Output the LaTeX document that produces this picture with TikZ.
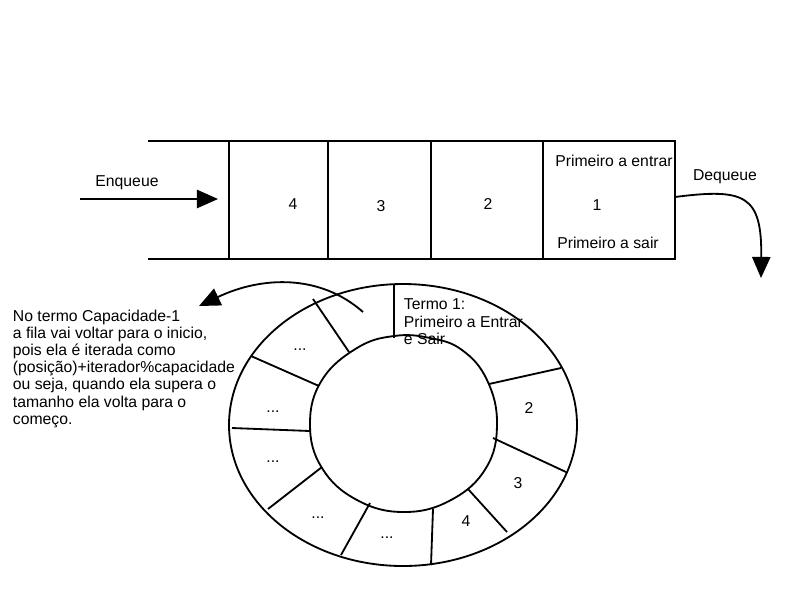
\documentclass[tikz,border=0pt]{standalone}
\usepackage{fontspec}
\setmainfont{Liberation Sans}
\usetikzlibrary{arrows.meta}

\begin{document}
\begin{tikzpicture}[x=0.025cm, y=-0.025cm, line width=1.3pt,
  tip/.style={-{Triangle[length=15pt,width=13pt]}},
  txt/.style={font=\fontsize{11.2}{12.2}\selectfont, inner sep=0pt}]
  \useasboundingbox (0,0) rectangle (800,600);
  % Fila (vetor)
  \draw (148,141) -- (675,141) -- (675,259) -- (148,259);
  \foreach \x in {229,328,431,543} \draw (\x,141) -- (\x,259);
  \node[txt] (c4) at (293,204) {4};
  \node[txt] (c3) at (381,206) {3};
  \node[txt] (c2) at (488,204) {2};
  \node[txt] (c1) at (597,205) {1};
  \node[txt] (entra) at (614,161) {Primeiro a entrar};
  \node[txt] (sai) at (608,243) {Primeiro a sair};
  % Enqueue / Dequeue
  \coordinate (ein) at (80,199);
  \coordinate (eout) at (218,199);
  \draw[tip] (ein) -- (eout);
  \node[txt] (enq) at (127,183) {Enqueue};
  \coordinate (din) at (675,197);
  \coordinate (dout) at (761,278);
  \draw[tip] (din) .. controls (745,188) and (762,195) .. (dout);
  \node[txt] (deq) at (725,177) {Dequeue};
  % Fila circular
  \draw (403,425) ellipse [x radius=174, y radius=141];
  \draw plot[smooth cycle, tension=0.7] coordinates {
    (394,336) (430,338) (462,350) (487,380) (497,424) (486,468) (451,500)
    (404,512) (357,500) (322,468) (310,424) (322,380) (357,348)
  };
  \foreach \xa/\ya/\xb/\yb in {394/285/394/338, 313/299/349/352, 251/356/319/386,
    232/428/310/431, 268/509/322/467, 341/555/370/503, 431/565/433/509,
    468/489/507/532, 493/438/566/472, 489/384/561/368}
    \draw (\xa,\ya) -- (\xb,\yb);
  \node[txt] (r1) at (300,350) {...};
  \node[txt] (r2) at (273,412) {...};
  \node[txt] (r3) at (273,462) {...};
  \node[txt] (r4) at (318,518) {...};
  \node[txt] (r5) at (387,538) {...};
  \node[txt] (q4) at (466,521) {4};
  \node[txt] (q3) at (518,483) {3};
  \node[txt] (q2) at (529,408) {2};
  \node[txt, anchor=north west, align=left, font=\fontsize{11.2}{12.4}\selectfont]
    (termo) at (403,298) {Termo 1:\\Primeiro a Entrar\\e Sair};
  % Volta ao inicio
  \coordinate (vin) at (363,312);
  \coordinate (vout) at (199,306);
  \draw[tip] (vin) .. controls (320,274) and (262,276) .. (vout);
  \node[txt, anchor=north west, align=left] (nota) at (12,309)
    {No termo Capacidade-1\\a fila vai voltar para o inicio,\\pois ela é iterada como\\(posição)+iterador\%capacidade\\ou seja, quando ela supera o\\tamanho ela volta para o\\começo.};
\end{tikzpicture}
\end{document}
